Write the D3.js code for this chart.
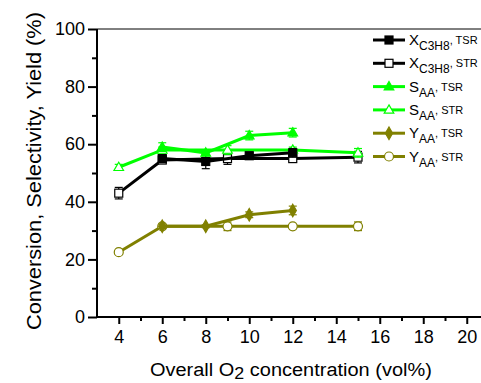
<!DOCTYPE html>
<html>
<head>
<meta charset="utf-8">
<script src="https://cdn.jsdelivr.net/npm/d3@7"></script>
<style>
  body { margin: 0; background: #fff; }
  svg text { font-family: "Liberation Sans", Arial, sans-serif; }
</style>
</head>
<body>
<svg id="chart" width="481" height="383"></svg>
<script>
// O2 concentrations (vol%)
const xTSR = [6, 8, 10, 12];
const xSTR = [4, 6, 9, 12, 15];

// values (%) and error bar half-widths
const convTSR = [55, 54, 56, 57];
const convTSRErr = [1, 2.5, 1, 1.5];
const convSTR = [43, 54.5, 55, 55, 55.5];
const convSTRErr = [2, 1, 2, 1, 2];

const selTSR = [59, 57, 63, 64];
const selTSRErr = [1.5, 1, 1.5, 1.5];
const selSTR = [52, 58, 58, 58, 57];
const selSTRErr = [1, 1, 1.5, 1, 1.5];

const yldTSR = [31.5, 31.5, 35.5, 37];
const yldTSRErr = [0.8, 0.5, 1, 1.5];
const yldSTR = [22.5, 31.5, 31.5, 31.5, 31.5];
const yldSTRErr = [0.5, 0.5, 1.5, 0.5, 1.5];

const xTicks = [4, 6, 8, 10, 12, 14, 16, 18, 20];
const yTicks = [0, 20, 40, 60, 80, 100];

const green = "#00ff00";
const olive = "#808000";

const series = [
  { name: "X", sub: "C3H8", tag: ", TSR", xs: xTSR, ys: convTSR, err: convTSRErr, color: "#000", shape: "square", filled: true },
  { name: "X", sub: "C3H8", tag: ", STR", xs: xSTR, ys: convSTR, err: convSTRErr, color: "#000", shape: "square", filled: false },
  { name: "S", sub: "AA", tag: ", TSR", xs: xTSR, ys: selTSR, err: selTSRErr, color: green, shape: "triangle", filled: true },
  { name: "S", sub: "AA", tag: ", STR", xs: xSTR, ys: selSTR, err: selSTRErr, color: green, shape: "triangle", filled: false },
  { name: "Y", sub: "AA", tag: ", TSR", xs: xTSR, ys: yldTSR, err: yldTSRErr, color: olive, shape: "diamond", filled: true },
  { name: "Y", sub: "AA", tag: ", STR", xs: xSTR, ys: yldSTR, err: yldSTRErr, color: olive, shape: "circle", filled: false }
];

const margin = {top: 29, left: 97, bottom: 66};
const width = 481, height = 383;
const svg = d3.select("#chart");

const x = d3.scaleLinear().domain([3, 21]).range([margin.left, margin.left + 18 * 21.75]);
const y = d3.scaleLinear().domain([0, 100]).range([height - margin.bottom, margin.top]);

// frame top line
svg.append("line")
  .attr("x1", margin.left).attr("x2", width)
  .attr("y1", y(100)).attr("y2", y(100))
  .attr("stroke", "#000").attr("stroke-width", 1);

// x axis
const xAxis = svg.append("g")
  .attr("transform", "translate(0," + y(0) + ")")
  .call(d3.axisBottom(x).tickValues(xTicks).tickSize(7).tickPadding(6));
xAxis.select(".domain").attr("stroke-width", 2).attr("d", "M" + margin.left + ",0H" + width);
xAxis.selectAll(".tick line").attr("stroke-width", 2);
xAxis.selectAll("text").attr("font-size", 18).attr("fill", "#000");
svg.append("g")
  .attr("transform", "translate(0," + y(0) + ")")
  .call(d3.axisBottom(x).tickValues(d3.range(5, 21, 2)).tickSize(4).tickFormat(""))
  .call(g => g.select(".domain").remove())
  .selectAll("line").attr("stroke-width", 2);

// y axis
const yAxis = svg.append("g")
  .attr("transform", "translate(" + margin.left + ",0)")
  .call(d3.axisLeft(y).tickValues(yTicks).tickSize(9).tickPadding(3));
yAxis.select(".domain").attr("stroke-width", 2).attr("d", "M0," + y(0) + "V" + y(100));
yAxis.selectAll(".tick line").attr("stroke-width", 2);
yAxis.selectAll("text").attr("font-size", 18).attr("fill", "#000");
svg.append("g")
  .attr("transform", "translate(" + margin.left + ",0)")
  .call(d3.axisLeft(y).tickValues(d3.range(10, 100, 20)).tickSize(5).tickFormat(""))
  .call(g => g.select(".domain").remove())
  .selectAll("line").attr("stroke-width", 2);

// axis titles
svg.append("text")
  .attr("transform", "translate(41," + (y(50) - 2) + ") rotate(-90)")
  .attr("text-anchor", "middle")
  .attr("font-size", 20)
  .attr("textLength", 318)
  .attr("lengthAdjust", "spacingAndGlyphs")
  .text("Conversion, Selectivity, Yield (%)");

const xt = svg.append("text")
  .attr("x", 150).attr("y", 376)
  .attr("font-size", 19);
xt.append("tspan").text("Overall O");
xt.append("tspan").attr("font-size", 17).attr("dy", 3).text("2");
xt.append("tspan").attr("dy", -3).text(" concentration (vol%)");
// stretch horizontally to the reference width
const bb = xt.node().getBBox();
xt.attr("transform", "translate(150,0) scale(" + (282 / bb.width) + ",1) translate(-150,0)");

function marker(g, s, cx, cy) {
  const fill = s.filled ? s.color : "#fff";
  if (s.shape === "square") {
    g.append("rect").attr("x", cx - 4).attr("y", cy - 4).attr("width", 8).attr("height", 8)
      .attr("fill", fill).attr("stroke", s.color).attr("stroke-width", 1.2);
  } else if (s.shape === "triangle") {
    g.append("path").attr("d", d3.symbol(d3.symbolTriangle, 40)())
      .attr("transform", "translate(" + cx + "," + (cy + 0.5) + ")")
      .attr("fill", fill).attr("stroke", s.color).attr("stroke-width", 1.2);
  } else if (s.shape === "diamond") {
    g.append("path").attr("d", d3.symbol(d3.symbolDiamond, 45)())
      .attr("transform", "translate(" + cx + "," + cy + ")")
      .attr("fill", fill).attr("stroke", s.color).attr("stroke-width", 1.2);
  } else {
    g.append("circle").attr("cx", cx).attr("cy", cy).attr("r", 4.5)
      .attr("fill", fill).attr("stroke", s.color).attr("stroke-width", 1.2);
  }
}

const line = d3.line().x(d => x(d[0])).y(d => y(d[1]));

// draw series: STR first so TSR sits above
const order = [1, 3, 5, 0, 2, 4];
order.forEach(i => {
  const s = series[i];
  const pts = s.xs.map((v, k) => [v, s.ys[k], s.err[k]]);
  const g = svg.append("g");
  g.append("path").datum(pts).attr("d", line)
    .attr("fill", "none").attr("stroke", s.color).attr("stroke-width", 3);
  pts.forEach(p => {
    const cx = x(p[0]), y1 = y(p[1] + p[2]), y2 = y(p[1] - p[2]);
    g.append("line").attr("x1", cx).attr("x2", cx).attr("y1", y1).attr("y2", y2)
      .attr("stroke", s.color).attr("stroke-width", 1.2);
    [y1, y2].forEach(yy => g.append("line")
      .attr("x1", cx - 4).attr("x2", cx + 4).attr("y1", yy).attr("y2", yy)
      .attr("stroke", s.color).attr("stroke-width", 1.2));
    marker(g, s, cx, y(p[1]));
  });
});

// legend
const legend = svg.append("g");
series.forEach((s, i) => {
  const ly = 40 + i * 23.3;
  const g = legend.append("g");
  g.append("line").attr("x1", 373).attr("x2", 405).attr("y1", ly).attr("y2", ly)
    .attr("stroke", s.color).attr("stroke-width", 3);
  marker(g, s, 389, ly);
  const t = g.append("text").attr("x", 409).attr("y", ly + 5).attr("font-size", 15);
  t.append("tspan").text(s.name);
  t.append("tspan").attr("font-size", 12).attr("dy", 5).text(s.sub);
  t.append("tspan").attr("font-size", 11).attr("dy", -6).text(s.tag);
});
</script>
</body>
</html>
